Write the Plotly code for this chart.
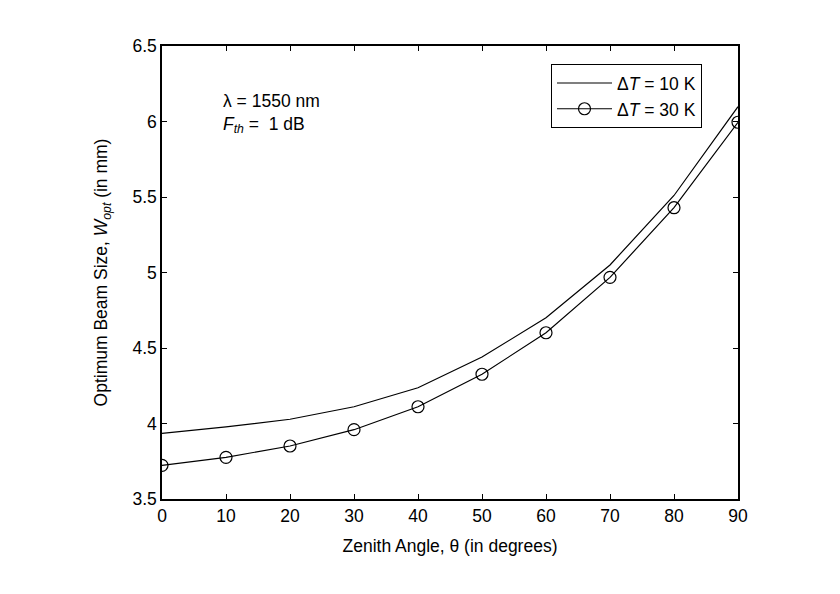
import plotly.graph_objects as go

zenith_deg = [0, 10, 20, 30, 40, 50, 60, 70, 80, 90]
w_dt10 = [3.935, 3.977, 4.028, 4.111, 4.237, 4.44, 4.70, 5.05, 5.51, 6.098]
w_dt30 = [3.723, 3.776, 3.851, 3.959, 4.111, 4.326, 4.601, 4.968, 5.429, 5.995]
x_ticks = [0, 10, 20, 30, 40, 50, 60, 70, 80, 90]
y_ticks = [3.5, 4, 4.5, 5, 5.5, 6, 6.5]
y_tick_text = ["3.5", "4", "4.5", "5", "5.5", "6", "6.5"]

FONT = "Liberation Sans, Arial, Helvetica, sans-serif"
FS = 17.5

fig = go.Figure()
fig.add_trace(go.Scatter(
    x=zenith_deg, y=w_dt10, mode="lines",
    line=dict(color="black", width=1.2),
    name="Δ<i>T</i> = 10 K",
))
fig.add_trace(go.Scatter(
    x=zenith_deg, y=w_dt30, mode="lines+markers",
    line=dict(color="black", width=1.2),
    marker=dict(symbol="circle-open", size=12, color="black", line=dict(width=1.2, color="black")),
    name="Δ<i>T</i> = 30 K",
))

axis_common = dict(
    showline=True, linecolor="black", linewidth=1.5, mirror="ticks",
    ticks="inside", ticklen=5, tickcolor="black", tickwidth=1,
    showgrid=False, zeroline=False,
    tickfont=dict(family=FONT, size=FS, color="black"),
)

fig.update_xaxes(
    range=[0, 90], tickvals=x_ticks,
    title=dict(text="Zenith Angle, θ (in degrees)", font=dict(family=FONT, size=FS, color="black"), standoff=15),
    **axis_common,
)
fig.update_yaxes(
    range=[3.5, 6.5], tickvals=y_ticks, ticktext=y_tick_text,
    title=dict(text="Optimum Beam Size, <i>W</i><sub><i>opt</i></sub> (in mm)", font=dict(family=FONT, size=FS, color="black"), standoff=20),
    **axis_common,
)

fig.add_annotation(
    x=0.103, y=0.905, xref="paper", yref="paper", xanchor="left", yanchor="top",
    text="λ = 1550 nm<br><i>F</i><sub><i>th</i></sub> =  1 dB",
    showarrow=False, align="left",
    font=dict(family=FONT, size=FS, color="black"),
)

fig.update_layout(
    width=840, height=594,
    margin=dict(l=154, r=110, t=38, b=103),
    paper_bgcolor="white", plot_bgcolor="white",
    font=dict(family=FONT, size=FS, color="black"),
    legend=dict(
        x=0.9375, y=0.96, xanchor="right", yanchor="top",
        bordercolor="black", borderwidth=1, bgcolor="white",
        font=dict(family=FONT, size=FS, color="black"),
        tracegroupgap=0, itemwidth=55,
    ),
)

fig.write_html("out.html")
